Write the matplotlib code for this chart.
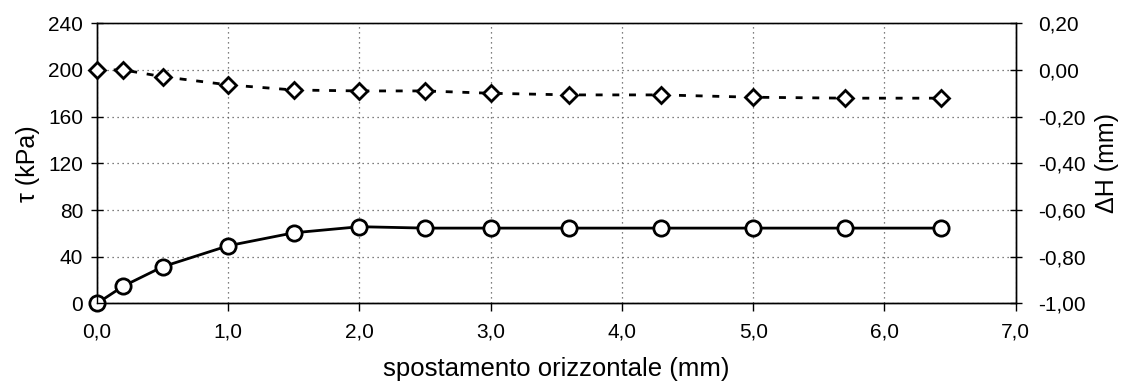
import matplotlib
matplotlib.use("Agg")
import matplotlib.pyplot as plt
from matplotlib.ticker import FuncFormatter

plt.rcParams['font.family'] = ['Liberation Sans', 'DejaVu Sans']
plt.rcParams['axes.unicode_minus'] = False

# data
spostamento = [0.0, 0.2, 0.5, 1.0, 1.5, 2.0, 2.5, 3.0, 3.6, 4.3, 5.0, 5.7, 6.43]
tau = [0.0, 14.8, 31.4, 49.4, 60.5, 65.7, 64.5, 64.5, 64.5, 64.5, 64.5, 64.5, 64.5]
delta_h = [0.0, 0.0, -0.029, -0.064, -0.086, -0.090, -0.090, -0.100, -0.107, -0.107, -0.117, -0.121, -0.121]

x_ticks = [0, 1, 2, 3, 4, 5, 6, 7]
tau_ticks = [0, 40, 80, 120, 160, 200, 240]
dh_ticks = [-1.0, -0.8, -0.6, -0.4, -0.2, 0.0, 0.2]

fig = plt.figure(figsize=(11.23, 3.87), dpi=100)
ax = fig.add_axes([0.0864, 0.216, 0.818, 0.724])
ax2 = ax.twinx()

ax.plot(spostamento, tau, color='black', lw=2, marker='o', ms=11,
        mfc='white', mec='black', mew=2, zorder=3, clip_on=False)
ax2.plot(spostamento, delta_h, color='black', lw=2, ls=(0, (2.5, 3.5)), marker='D', ms=8,
         mfc='white', mec='black', mew=2, zorder=3, clip_on=False)

ax.set_xlim(0, 7)
ax.set_ylim(0, 240)
ax2.set_ylim(-1.0, 0.2)
ax.set_xticks(x_ticks)
ax.set_yticks(tau_ticks)
ax2.set_yticks(dh_ticks)

ax.xaxis.set_major_formatter(FuncFormatter(lambda v, p: f"{v:.1f}".replace('.', ',')))
ax2.yaxis.set_major_formatter(FuncFormatter(lambda v, p: f"{v:.2f}".replace('.', ',')))

ax.grid(True, color='#555555', ls=(0, (1, 3)), lw=0.9)

for a in (ax, ax2):
    for s in a.spines.values():
        s.set_color('black')
        s.set_linewidth(1.0)
ax.spines['top'].set_color('#555555')

ax.tick_params(axis='x', labelsize=15, direction='out', length=6, width=1, pad=8, colors='black')
ax.tick_params(axis='y', labelsize=15, direction='inout', length=8, width=1, pad=6, colors='black')
ax2.tick_params(axis='y', labelsize=15, direction='inout', length=8, width=1, pad=12)

ax.set_xlabel('spostamento orizzontale (mm)', fontsize=18.5, labelpad=11)
ax.set_ylabel('τ (kPa)', fontsize=18, labelpad=6)
ax2.set_ylabel('ΔH (mm)', fontsize=18, labelpad=7)

fig.savefig('out.png', dpi=100)
